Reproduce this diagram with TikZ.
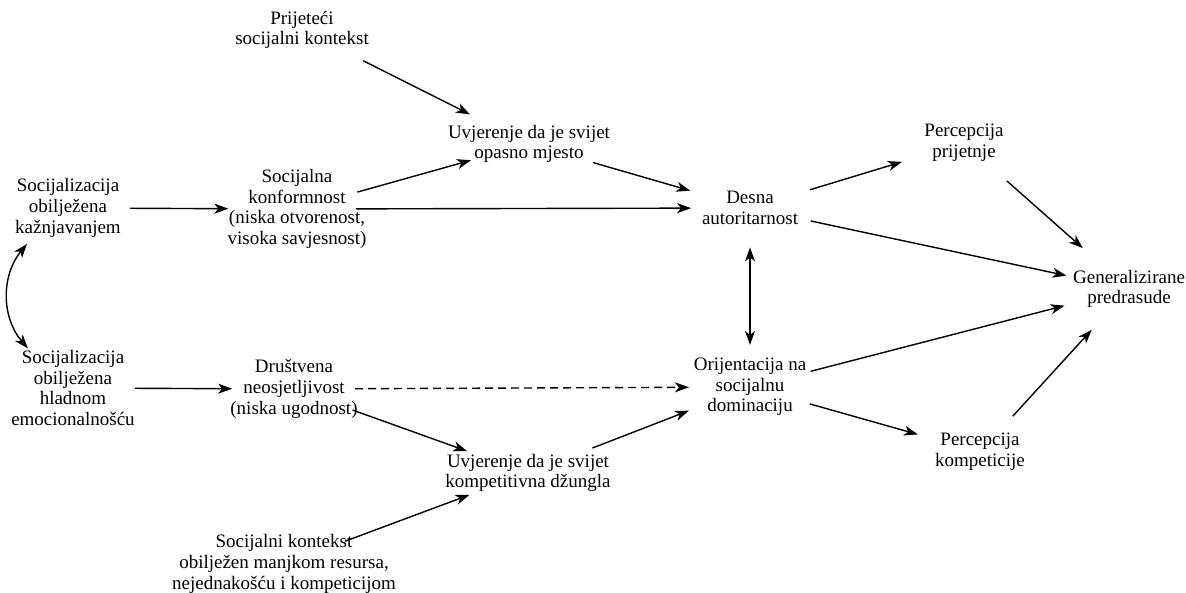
\documentclass[tikz,border=0pt]{standalone}
\usepackage{fontspec}
\setmainfont{Liberation Serif}
\usetikzlibrary{arrows.meta, calc}

\begin{document}
\begin{tikzpicture}[x=0.5pt, y=-0.5pt,
    box/.style={align=center, inner sep=0pt, font=\fontsize{9.5}{10.35}\selectfont},
    link/.style={-{Stealth[length=7pt, width=5pt, inset=2pt]}, line width=0.7pt},
    twoway/.style={{Stealth[length=7pt, width=5pt, inset=2pt]}-{Stealth[length=7pt, width=5pt, inset=2pt]}, line width=0.7pt}]
        \useasboundingbox (0,0) rectangle (1186,593);

        % Socialisation (left column)
            \node[box] (punish) at (68,208) {Socijalizacija\\obilježena\\kažnjavanjem};
            \node[box] (cold) at (73,388) {Socijalizacija\\obilježena\\hladnom\\emocionalnošću};

            % Personality
            \node[box] (konform) at (297,209) {Socijalna\\konformnost\\(niska otvorenost,\\visoka savjesnost)};
            \node[box] (drust) at (294,389) {Društvena\\neosjetljivost\\(niska ugodnost)};

            % Social context and world views
            \node[box] (prijet) at (302,30) {Prijeteći\\socijalni kontekst};
            \node[box] (opasno) at (529,144) {Uvjerenje da je svijet\\opasno mjesto};
            \node[box] (jungle) at (528,473) {Uvjerenje da je svijet\\kompetitivna džungla};
            \node[box] (scarce) at (284,564) {Socijalni kontekst\\obilježen manjkom resursa,\\nejednakošću i kompeticijom};

            % Ideological attitudes
            \node[box] (desna) at (750,208) {Desna\\autoritarnost};
            \node[box] (sdo) at (750,387) {Orijentacija na\\socijalnu\\dominaciju};

            % Perceptions and outcome
            \node[box] (percpri) at (964,143) {Percepcija\\prijetnje};
            \node[box] (perckomp) at (980,452) {Percepcija\\kompeticije};
            \node[box] (general) at (1129,289) {Generalizirane\\predrasude};

            % Correlated socialisation styles
            \draw[twoway] ($(punish)!0.2!(cold)+(-42,0)$) to[bend right=40] ($(punish)!0.78!(cold)+(-44,0)$);

            % Upper path
            \draw[link] ($(punish)!0.27!(konform)$) -- ($(punish)!0.70!(konform)$);
            \draw[link] ($(prijet)!0.27!(opasno)$) -- ($(prijet)!0.74!(opasno)$);
            \draw[link] ($(konform)!0.26!(opasno)$) -- ($(konform)!0.75!(opasno)$);
            \draw[link] ($(konform)!0.13!(desna)$) -- ($(konform)!0.87!(desna)$);
            \draw[link] ($(opasno)!0.29!(desna)$) -- ($(opasno)!0.73!(desna)$);
            \draw[link] ($(desna)!0.28!(percpri)$) -- ($(desna)!0.71!(percpri)$);
            \draw[link] ($(percpri)!0.26!(general)$) -- ($(percpri)!0.72!(general)$);
            \draw[link] ($(desna)!0.16!(general)$) -- ($(desna)!0.835!(general)$);

            % Link between the two attitudes
            \draw[twoway] ($(desna)!0.22!(sdo)$) -- ($(desna)!0.765!(sdo)$);

            % Lower path
            \draw[link] ($(cold)!0.28!(drust)$) -- ($(cold)!0.72!(drust)$);
            \draw[link, dash pattern=on 4pt off 2.5pt] ($(drust)!0.134!(sdo)$) -- ($(drust)!0.866!(sdo)$);
            \draw[link] ($(drust)!0.25!(jungle)$) -- ($(drust)!0.74!(jungle)$);
            \draw[link] ($(scarce)!0.25!(jungle)$) -- ($(scarce)!0.76!(jungle)$);
            \draw[link] ($(jungle)!0.29!(sdo)$) -- ($(jungle)!0.725!(sdo)$);
            \draw[link] ($(sdo)!0.16!(general)$) -- ($(sdo)!0.83!(general)$);
            \draw[link] ($(sdo)!0.26!(perckomp)$) -- ($(sdo)!0.73!(perckomp)$);
            \draw[link] ($(perckomp)!0.22!(general)$) -- ($(perckomp)!0.75!(general)$);

    \end{tikzpicture}
\end{document}
